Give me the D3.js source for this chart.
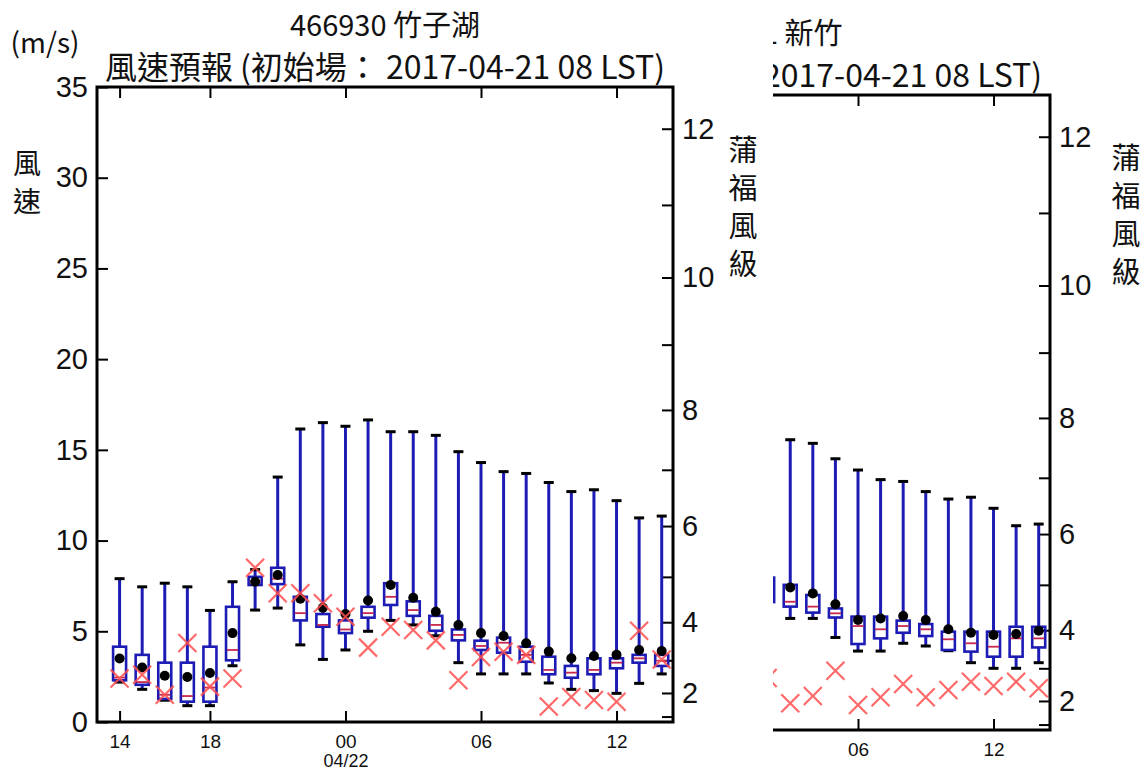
<!DOCTYPE html>
<html><head><meta charset="utf-8">
<script src="https://cdn.jsdelivr.net/npm/d3@7"></script>
<style>body{margin:0;background:#fff}svg{display:block}</style>
</head><body>
<svg id="c" width="1148" height="773"></svg>
<script>
// ---------- data ----------
// hour offsets after 2017-04-21 14 LST
const hoursLeft = d3.range(0, 25);
const hoursRight = d3.range(12, 25);
const xTickOffsets = [0, 4, 10, 16, 22];
const xTickLabels = ["14", "18", "00", "06", "12"];
const xTickSubLabels = ["", "", "04/22", "", ""];
const speedTicks = [0, 5, 10, 15, 20, 25, 30, 35];
const beaufortBounds = [0.3, 1.6, 3.4, 5.5, 8.0, 10.8, 13.9, 17.2, 20.8, 24.5, 28.5, 32.7];
const beaufortLevels = [1, 2, 3, 4, 5, 6, 7, 8, 9, 10, 11, 12];

// 466930 竹子湖
const maxL  = [7.9, 7.45, 7.65, 7.45, 6.15, 7.73, 8.4, 13.5, 16.15, 16.5, 16.3, 16.65, 16.0, 16.0, 15.8, 14.9, 14.3, 13.8, 13.7, 13.2, 12.7, 12.8, 12.2, 11.25, 11.35];
const q3L   = [4.15, 3.7, 3.27, 3.27, 4.15, 6.35, 8.0, 8.5, 6.9, 5.95, 5.6, 6.35, 7.65, 6.65, 5.85, 5.1, 4.48, 4.65, 4.15, 3.6, 3.09, 3.51, 3.51, 3.7, 3.7];
const medL  = [2.45, 2.2, 1.5, 1.43, 1.9, 3.97, 7.75, 7.9, 6.0, 5.35, 5.1, 6.0, 6.9, 6.17, 5.35, 4.8, 4.19, 4.37, 3.7, 2.87, 2.72, 2.87, 3.27, 3.51, 3.38];
const q1L   = [2.3, 2.05, 1.27, 1.12, 1.12, 3.4, 7.55, 7.6, 5.6, 5.25, 4.9, 5.75, 6.45, 5.85, 5.03, 4.5, 3.97, 3.82, 3.32, 2.63, 2.44, 2.63, 2.96, 3.27, 3.09];
const minL  = [2.2, 1.8, 1.2, 0.9, 0.9, 3.1, 6.17, 6.28, 4.25, 3.45, 3.97, 5.0, 5.6, 5.35, 4.75, 3.27, 2.65, 2.65, 2.65, 2.15, 1.8, 1.73, 1.58, 2.13, 2.65];
const meanL = [3.5, 3.0, 2.55, 2.48, 2.7, 4.9, 7.73, 8.1, 6.8, 6.3, 5.95, 6.7, 7.55, 6.85, 6.08, 5.35, 4.9, 4.74, 4.34, 3.88, 3.51, 3.64, 3.7, 3.97, 3.91];
const obsL  = [2.4, 2.6, 1.5, 4.35, 1.95, 2.4, 8.5, 7.1, 7.1, 6.55, 5.8, 4.1, 5.25, 5.07, 4.5, 2.3, 3.58, 3.87, 3.7, 0.85, 1.38, 1.21, 1.12, 5.03, 3.45];

// 467571 新竹 (visible part)
const maxR  = [16.0, 16.0, 15.8, 14.95, 14.33, 13.8, 13.7, 13.14, 12.73, 12.83, 12.22, 11.26, 11.35];
const q3R   = [8.4, 8.0, 7.44, 6.7, 6.25, 6.25, 6.03, 5.84, 5.42, 5.42, 5.42, 5.69, 5.69];
const medR  = [7.6, 7.07, 6.8, 6.43, 5.73, 5.55, 5.73, 5.55, 5.0, 4.78, 4.59, 5.05, 5.05];
const q1R   = [7.05, 6.8, 6.47, 6.2, 4.74, 5.05, 5.36, 5.18, 4.41, 4.32, 4.04, 4.04, 4.55];
const minR  = [6.3, 6.15, 6.15, 5.1, 4.35, 4.35, 4.78, 4.63, 4.37, 3.71, 3.4, 3.4, 3.71];
const meanR = [7.9, 7.85, 7.53, 6.93, 6.06, 6.15, 6.28, 6.06, 5.55, 5.36, 5.24, 5.29, 5.47];
const obsR  = [2.87, 1.47, 1.87, 3.27, 1.38, 1.8, 2.54, 1.8, 2.2, 2.66, 2.43, 2.66, 2.3];

// ---------- drawing ----------
const BLUE = "#1c1cb4", RED = "#ff4f4f", MED = "#c8284e";
const CJK = "'Noto Sans CJK TC','Noto Sans CJK SC',sans-serif";
const TICKF = "'DejaVu Sans',sans-serif";
const svg = d3.select("#c");
svg.append("rect").attr("width", 1148).attr("height", 773).attr("fill", "#fff");

function build(hours, mx, q3, md, q1, mn, mean, obs) {
  return hours.map((h, i) => ({h, max: mx[i], q3: q3[i], med: md[i], q1: q1[i], min: mn[i], mean: mean[i], obs: obs[i]}));
}

function vtext(sel, x, yTop, size, spacing, str) {
  return sel.append("text").attr("x", x).attr("y", yTop)
    .style("writing-mode", "vertical-rl").style("text-orientation", "upright")
    .attr("font-size", size).attr("letter-spacing", spacing).text(str);
}

function panel(o) {
  let g = svg.append("g");
  const minVisible = o.clipX != null ? o.clipX : -Infinity;
  if (o.clipX != null) {
    const id = "clip" + o.clipX;
    svg.append("clipPath").attr("id", id).append("rect")
      .attr("x", o.clipX).attr("y", 0).attr("width", 1148 - o.clipX).attr("height", 773);
    g.attr("clip-path", `url(#${id})`);
    g.append("rect").attr("x", o.clipX).attr("y", 0).attr("width", 1148 - o.clipX).attr("height", 773).attr("fill", "#fff");
  }
  const x = d3.scaleLinear().domain([-1, 24.5]).range([o.x0, o.x1]);
  const y = d3.scaleLinear().domain([0, 35]).range([o.y1, o.y0]);
  const T = 11;

  const xt = xTickOffsets.map((v, i) => ({v, i})).filter(d => x(d.v) > minVisible);

  // axes
  const ax = g.append("g").attr("font-family", TICKF);
  const axes = [];
  if (o.x0 > minVisible) {
    axes.push(ax.append("g").attr("class", "yl").attr("transform", `translate(${o.x0},0)`)
      .call(d3.axisLeft(y).tickValues(speedTicks).tickSize(-T).tickPadding(9).tickFormat(d3.format("d"))));
  }
  const right = ax.append("g").attr("transform", `translate(${o.x1},0)`)
    .call(d3.axisRight(y).tickValues(beaufortBounds).tickSize(-T).tickPadding(9)
      .tickFormat((d, i) => beaufortLevels[i] % 2 === 0 ? beaufortLevels[i] : ""));
  const bottom = ax.append("g").attr("transform", `translate(0,${o.y1})`)
    .call(d3.axisBottom(x).tickValues(xt.map(d => d.v)).tickSize(-T).tickPadding(13)
      .tickFormat((d, i) => xTickLabels[xt[i].i]));
  const top = ax.append("g").attr("transform", `translate(0,${o.y0})`)
    .call(d3.axisTop(x).tickValues(xt.map(d => d.v)).tickSize(-T).tickFormat(""));
  axes.push(right, bottom, top);
  axes.forEach(a => {
    a.select(".domain").remove();
    a.selectAll(".tick line").attr("stroke", "#000").attr("stroke-width", 2);
    a.selectAll("text").attr("fill", "#111");
  });
  ax.selectAll(".yl text").attr("font-size", 29);
  right.selectAll("text").attr("font-size", 29);
  bottom.selectAll("text").attr("font-size", 19);
  bottom.selectAll(".tick").filter((d, i) => xTickSubLabels[xt[i].i] !== "").append("text")
    .attr("y", 45).attr("fill", "#111").attr("font-size", 18).attr("text-anchor", "middle")
    .text((d) => xTickSubLabels[xTickOffsets.indexOf(d)]);

  // boxes
  const data = o.data;
  const bw = 13, cw = 10;
  const marks = g.append("g");
  const b = marks.selectAll("g.box").data(data).join("g").attr("class", "box");
  b.append("line").attr("x1", d => x(d.h)).attr("x2", d => x(d.h))
    .attr("y1", d => y(d.q3)).attr("y2", d => y(d.max)).attr("stroke", BLUE).attr("stroke-width", 3);
  b.append("line").attr("x1", d => x(d.h)).attr("x2", d => x(d.h))
    .attr("y1", d => y(d.q1)).attr("y2", d => y(d.min)).attr("stroke", BLUE).attr("stroke-width", 3);
  b.append("line").attr("x1", d => x(d.h) - cw / 2).attr("x2", d => x(d.h) + cw / 2)
    .attr("y1", d => y(d.max)).attr("y2", d => y(d.max)).attr("stroke", "#000").attr("stroke-width", 3);
  b.append("line").attr("x1", d => x(d.h) - cw / 2).attr("x2", d => x(d.h) + cw / 2)
    .attr("y1", d => y(d.min)).attr("y2", d => y(d.min)).attr("stroke", "#000").attr("stroke-width", 3);
  b.append("rect").attr("x", d => x(d.h) - bw / 2).attr("width", bw)
    .attr("y", d => y(d.q3)).attr("height", d => Math.max(0, y(d.q1) - y(d.q3)))
    .attr("fill", "none").attr("stroke", BLUE).attr("stroke-width", 2.6);
  b.append("line").attr("x1", d => x(d.h) - bw / 2 + 1).attr("x2", d => x(d.h) + bw / 2 - 1)
    .attr("y1", d => y(d.med)).attr("y2", d => y(d.med)).attr("stroke", MED).attr("stroke-width", 1.8);
  b.append("circle").attr("cx", d => x(d.h)).attr("cy", d => y(d.mean)).attr("r", 5).attr("fill", "#000");
  const s = 9;
  b.append("path")
    .attr("d", d => { const cx = x(d.h), cy = y(d.obs); return `M${cx - s},${cy - s}L${cx + s},${cy + s}M${cx - s},${cy + s}L${cx + s},${cy - s}`; })
    .attr("stroke", RED).attr("stroke-width", 2.2).attr("fill", "none").attr("opacity", 0.85);

  // frame
  g.append("rect").attr("x", o.x0).attr("y", o.y0).attr("width", o.x1 - o.x0).attr("height", o.y1 - o.y0)
    .attr("fill", "none").attr("stroke", "#000").attr("stroke-width", 3);

  // titles & labels
  const cx = (o.x0 + o.x1) / 2;
  const t = g.append("g").attr("font-family", CJK).attr("fill", "#111");
  t.append("text").attr("x", cx).attr("y", o.y0 - 51).attr("text-anchor", "middle").attr("font-size", 29).text(o.title1);
  const t2 = t.append("text").attr("x", cx).attr("y", o.y0 - 8).attr("text-anchor", "middle").attr("font-size", 32).text(o.title2);
  if (o.title2Visible) {
    // only the part of the second title line that lies inside the visible crop
    const endX = cx + t2.node().getComputedTextLength() / 2;
    t2.attr("x", endX).attr("text-anchor", "end").text(o.title2Visible);
  }
  if (o.x0 > minVisible) {
    t.append("text").attr("x", o.x0 - 52).attr("y", o.y0 - 34).attr("text-anchor", "middle").attr("font-size", 28).text("(m/s)");
    vtext(t, o.x0 - 70, o.y0 + 62, 28, 10, "風速");
  }
  vtext(t, o.x1 + o.rlab, o.y0 + 48, 29, 9, "蒲福風級");
}

panel({x0: 97, x1: 673, y0: 87, y1: 722, rlab: 70,
  title1: "466930 竹子湖", title2: "風速預報 (初始場： 2017-04-21 08 LST)",
  data: build(hoursLeft, maxL, q3L, medL, q1L, minL, meanL, obsL)});
panel({x0: 474, x1: 1050, y0: 95, y1: 730, rlab: 76, clipX: 773,
  title1: "467571 新竹", title2: "風速預報 (初始場： 2017-04-21 08 LST)",
  title2Visible: "2017-04-21 08 LST)",
  data: build(hoursRight, maxR, q3R, medR, q1R, minR, meanR, obsR)});
</script>
</body></html>
